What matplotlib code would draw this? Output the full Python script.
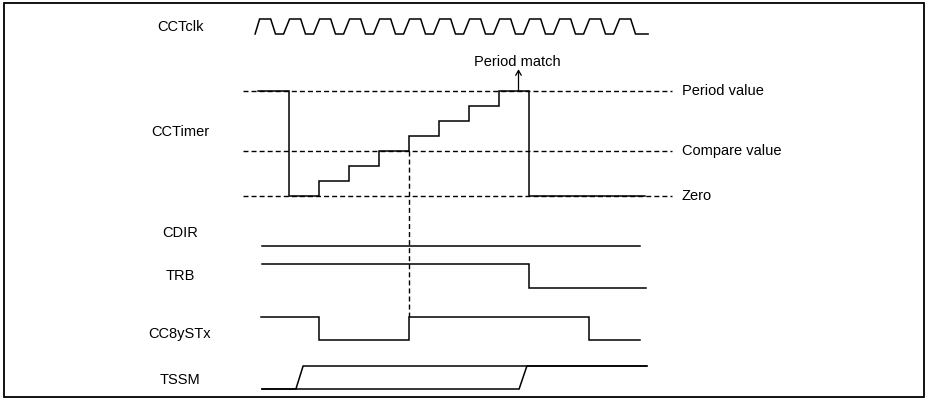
import numpy as np
import matplotlib.pyplot as plt
from matplotlib.patches import Rectangle

plt.rcParams['font.family'] = ['Liberation Sans', 'DejaVu Sans']

# time is in clock cycles, t=0 is the clock edge where the timer wraps to zero
clk_rise = [-1, 0, 1, 2, 3, 4, 5, 6, 7, 8, 9, 10, 11]

# CCTimer count value
timer_t = [-1.03, 0, 1, 2, 3, 4, 5, 6, 7, 8, 11.87]
timer_val = [7, 0, 1, 2, 3, 4, 5, 6, 7, 0, 0]
period_value = 7
compare_value = 3
period_match_t = 7.65

# logic signals (1 = high)
cdir_t = [-0.9, 11.7]
cdir_val = [1, 1]
trb_t = [-0.9, 8, 11.9]
trb_val = [1, 0, 0]
cc8_t = [-0.93, 1, 4, 10, 11.7]
cc8_val = [1, 0, 1, 0, 0]
# TSSM drawn as two overlapping slow transitions
tssm_a_t = [-0.9, 0.23, 0.47, 11.93]
tssm_a_val = [0, 0, 1, 1]
tssm_b_t = [-0.9, 7.67, 7.93, 11.93]
tssm_b_val = [0, 0, 1, 1]

labels = ['CCTclk', 'CCTimer', 'CDIR', 'TRB', 'CC8ySTx', 'TSSM']
ref_labels = ['Period value', 'Compare value', 'Zero']

# layout (pixel rows, y grows downward)
x0_px, cyc_px = 289, 30.0
W, H = 926, 400
clk_hi, clk_lo = 19, 34
zero_y, cnt_px = 195.5, 14.9
cdir_y = 246
trb_hi, trb_lo = 264, 288
cc8_hi, cc8_lo = 317, 340
tssm_hi, tssm_lo = 366, 389
label_y = [27, 132, 233, 276, 334, 380]

fig = plt.figure(figsize=(W / 100, H / 100), dpi=100)
ax = fig.add_axes([0, 0, 1, 1])
ax.set_xlim(-x0_px / cyc_px, (W - x0_px) / cyc_px)
ax.set_ylim(H, 0)
ax.set_axis_off()

lw = 1.1
kw = dict(color='black', lw=lw, solid_joinstyle='miter')
dash = dict(color='black', lw=1.0, linestyle=(0, (3.6, 2.2)))


def lvl(v, hi, lo):
    return lo + (hi - lo) * np.asarray(v, dtype=float)


# clock: slanted edges, rise ends on the cycle boundary
cx, cy = [clk_rise[0] - 0.13], [0]
for k in clk_rise:
    if k != clk_rise[0]:
        cx.append(k - 0.18)
        cy.append(0)
    cx += [k + 0.02, k + 0.39, k + 0.55]
    cy += [1, 1, 0]
cx.append(clk_rise[-1] + 0.97)
cy.append(0)
ax.plot(cx, lvl(cy, clk_hi, clk_lo), **kw)

# timer reference levels
dash_x = [-1.53, 12.77]
ref_vals = [period_value, compare_value, 0]
for v, name in zip(ref_vals, ref_labels):
    y = zero_y - v * cnt_px
    ax.plot(dash_x, [y, y], **dash)
    ax.text(13.1, y, name, fontsize=10.5, va='center', ha='left')

# timer staircase
ax.step(timer_t, zero_y - np.array(timer_val) * cnt_px, where='post', **kw)

# period match marker
py = zero_y - period_value * cnt_px
ax.annotate('', xy=(period_match_t, py - 22), xytext=(period_match_t, py),
            arrowprops=dict(arrowstyle='->,head_length=0.35,head_width=0.2', color='black', lw=0.9,
                            shrinkA=0, shrinkB=0))
ax.text(period_match_t - 0.05, py - 29, 'Period match', fontsize=10.5, ha='center', va='center')

# compare match marker line
ax.plot([compare_value + 1, compare_value + 1], [zero_y - compare_value * cnt_px, cc8_hi], **dash)

# digital rows
ax.plot(cdir_t, [cdir_y] * len(cdir_t), **kw)
ax.step(trb_t, lvl(trb_val, trb_hi, trb_lo), where='post', **kw)
ax.step(cc8_t, lvl(cc8_val, cc8_hi, cc8_lo), where='post', **kw)
ax.plot(tssm_a_t, lvl(tssm_a_val, tssm_hi, tssm_lo), **kw)
ax.plot(tssm_b_t, lvl(tssm_b_val, tssm_hi, tssm_lo), **kw)

# signal names
tr = ax.get_yaxis_transform()
for name, y in zip(labels, label_y):
    ax.text(180 / W, y, name, transform=tr, fontsize=10.5, ha='center', va='center')

# frame
ax.add_patch(Rectangle((4 / W, 3 / H), 920 / W, 394 / H, transform=ax.transAxes,
                       fill=False, lw=1.3, edgecolor='black'))

fig.savefig('out.png', dpi=100)
